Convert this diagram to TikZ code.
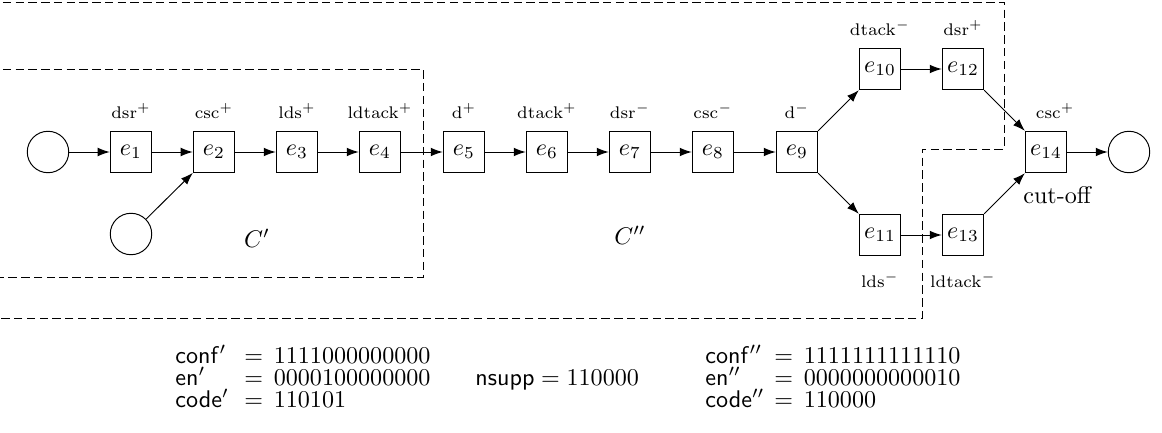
\documentclass[tikz,border=0pt]{standalone}
\usetikzlibrary{arrows.meta}
\tikzset{
  ev/.style={draw, minimum size=17.2pt, inner sep=0pt},
  cond/.style={draw, circle, minimum size=17.2pt, inner sep=0pt},
  arc/.style={-{Latex[length=5pt,width=3.6pt]}},
  lbl/.style={font=\scriptsize},
  up/.style={label={[lbl, label distance=1.5pt]above:#1}},
  down/.style={label={[lbl, label distance=3.2pt]below:#1}},
  region/.style={dash pattern=on 3.5pt off 1.8pt},
  info/.style={anchor=base west, inner sep=0pt},
}
% a name padded to a fixed width, so that the signs line up
\newcommand{\vecname}[1]{\makebox[28.6pt][l]{$\mathsf{#1}$}}
\begin{document}
\begin{tikzpicture}[x=0.415pt, y=-0.415pt]
\useasboundingbox (0,0) rectangle (1162,433);

% the two prefixes
\draw[region] (-10,69) -- (423,69) -- (423,277) -- (-10,277);
\draw[region] (-10,2) -- (1004,2) -- (1004,149) -- (922,149) -- (922,318) -- (-10,318);

% conditions
\node[cond] (b0) at (48,152) {};
\node[cond] (b1) at (131,234) {};
\node[cond] (b2) at (1129,152) {};

% events
\node[ev, up={$\mathrm{dsr}^{+}$}] (e1) at (131,152) {$e_{1}$};
\node[ev, up={$\mathrm{csc}^{+}$}] (e2) at (214,152) {$e_{2}$};
\node[ev, up={$\mathrm{lds}^{+}$}] (e3) at (297,152) {$e_{3}$};
\node[ev, up={$\mathrm{ldtack}^{+}$}] (e4) at (380,152) {$e_{4}$};
\node[ev, up={$\mathrm{d}^{+}$}] (e5) at (464,152) {$e_{5}$};
\node[ev, up={$\mathrm{dtack}^{+}$}] (e6) at (547,152) {$e_{6}$};
\node[ev, up={$\mathrm{dsr}^{-}$}] (e7) at (630,152) {$e_{7}$};
\node[ev, up={$\mathrm{csc}^{-}$}] (e8) at (713,152) {$e_{8}$};
\node[ev, up={$\mathrm{d}^{-}$}] (e9) at (797,152) {$e_{9}$};
\node[ev, up={$\mathrm{dtack}^{-}$}] (e10) at (880,69) {$e_{10}$};
\node[ev, down={$\mathrm{lds}^{-}$}] (e11) at (880,235) {$e_{11}$};
\node[ev, up={$\mathrm{dsr}^{+}$}] (e12) at (963,69) {$e_{12}$};
\node[ev, down={$\mathrm{ldtack}^{-}$}] (e13) at (963,235) {$e_{13}$};
\node[ev,
  label={[lbl, label distance=1.5pt, xshift=3.8pt]above:$\mathrm{csc}^{+}$},
  label={[label distance=2pt, xshift=4.6pt]below:cut-off}] (e14) at (1046,152) {$e_{14}$};

% arcs
\draw[arc] (b0) -- (e1);
\draw[arc] (e1) -- (e2);
\draw[arc] (b1) -- (e2);
\draw[arc] (e2) -- (e3);
\draw[arc] (e3) -- (e4);
\draw[arc] (e4) -- (e5);
\draw[arc] (e5) -- (e6);
\draw[arc] (e6) -- (e7);
\draw[arc] (e7) -- (e8);
\draw[arc] (e8) -- (e9);
\draw[arc] (e9) -- (e10);
\draw[arc] (e9) -- (e11);
\draw[arc] (e10) -- (e12);
\draw[arc] (e11) -- (e13);
\draw[arc] (e12) -- (e14);
\draw[arc] (e13) -- (e14);
\draw[arc] (e14) -- (b2);

% prefix names
\node (c1) at (257,238) {$C'$};
\node (c2) at (630,235) {$C''$};

% encodings of the two prefixes
\node[info] (conf1) at (175,363) {\vecname{conf'}$=\,1111000000000$};
\node[info] (en1)   at (175,385) {\vecname{en'}$=\,0000100000000$};
\node[info] (code1) at (175,407) {\vecname{code'}$=\,110101$};
\node[info] (nsupp) at (475,385) {$\mathsf{nsupp} = 110000$};
\node[info] (conf2) at (705,363) {\vecname{conf''}$=\,1111111111110$};
\node[info] (en2)   at (705,385) {\vecname{en''}$=\,0000000000010$};
\node[info] (code2) at (705,407) {\vecname{code''}$=\,110000$};
\end{tikzpicture}
\end{document}
